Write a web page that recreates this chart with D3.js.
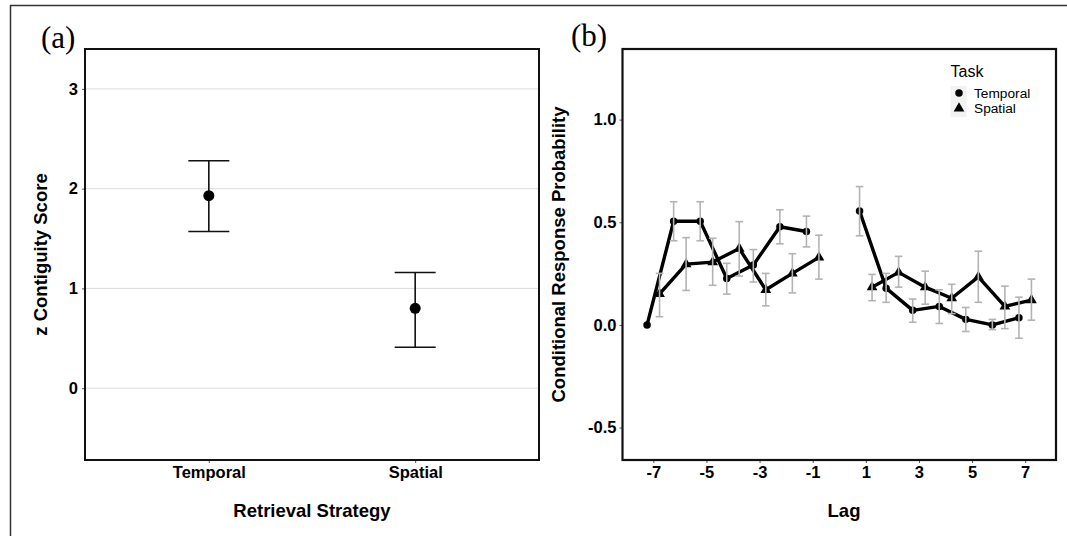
<!DOCTYPE html>
<html lang="en">
  <head>
    <meta charset="UTF-8" />
    <title>Contiguity and lag-CRP</title>
    <script src="https://d3js.org/d3.v7.min.js"></script>
    <style>
      body {
        margin: 0;
        background: #fff;
      }
      svg {
        font-family: "Liberation Sans", Arial, sans-serif;
      }
      .tick text {
        font-size: 16.5px;
        font-weight: bold;
        fill: #000;
      }
      .tick line {
        stroke: #555;
      }
      .axis-title {
        font-size: 18.5px;
        font-weight: bold;
        text-anchor: middle;
      }
      .panel-label {
        font-family: "Liberation Serif", "Times New Roman", serif;
        font-size: 31px;
      }
    </style>
  </head>
  <body>
    <svg id="chart" width="1067" height="536"></svg>
    <script>
      // panel (a): z contiguity score by retrieval strategy
      const strategies = ["Temporal", "Spatial"];
      const zMean = [1.93, 0.8];
      const zLow = [1.57, 0.41];
      const zHigh = [2.28, 1.16];
      const zTicks = [0, 1, 2, 3];

      // panel (b): lag-CRP per task
      const lags = [-7, -6, -5, -4, -3, -2, -1, 1, 2, 3, 4, 5, 6, 7];
      const temporalCrp = [0.0, 0.505, 0.505, 0.226, 0.292, 0.478, 0.455, 0.555, 0.179, 0.071, 0.09, 0.027, 0.0, 0.035];
      const temporalLow = [0.0, 0.41, 0.41, 0.15, 0.209, 0.395, 0.38, 0.434, 0.11, 0.013, 0.007, -0.032, -0.023, -0.065];
      const temporalHigh = [0.0, 0.6, 0.6, 0.3, 0.367, 0.561, 0.53, 0.674, 0.251, 0.126, 0.171, 0.085, 0.027, 0.135];
      const spatialCrp = [0.151, 0.296, 0.306, 0.372, 0.171, 0.251, 0.329, 0.184, 0.256, 0.184, 0.13, 0.234, 0.09, 0.121];
      const spatialLow = [0.04, 0.168, 0.193, 0.238, 0.093, 0.156, 0.223, 0.118, 0.184, 0.101, 0.055, 0.11, -0.018, 0.023];
      const spatialHigh = [0.251, 0.425, 0.422, 0.503, 0.251, 0.347, 0.437, 0.246, 0.334, 0.262, 0.198, 0.359, 0.189, 0.223];
      const crpTicks = [-0.5, 0, 0.5, 1.0];
      const lagTicks = [-7, -5, -3, -1, 1, 3, 5, 7];
      const tasks = ["Temporal", "Spatial"];

      const svg = d3.select("#chart");

      // outer frame (top + left edges only)
      svg.append("line").attr("x1", 10).attr("y1", 5.5).attr("x2", 1067).attr("y2", 5.5)
        .attr("stroke", "#333").attr("stroke-width", 1.5);
      svg.append("line").attr("x1", 10.5).attr("y1", 5).attr("x2", 10.5).attr("y2", 536)
        .attr("stroke", "#333").attr("stroke-width", 1.5);

      // ---------- panel (a) ----------
      const a = { left: 85, right: 539, top: 49, bottom: 460 };
      const xA = d3.scalePoint().domain(strategies).range([a.left, a.right]).padding(0.6);
      const yA = d3.scaleLinear().domain([-0.72, 3.4]).range([a.bottom, a.top]);

      const gA = svg.append("g");
      gA.selectAll("line.grid")
        .data(zTicks)
        .enter()
        .append("line")
        .attr("class", "grid")
        .attr("x1", a.left).attr("x2", a.right)
        .attr("y1", (d) => yA(d)).attr("y2", (d) => yA(d))
        .attr("stroke", "#dcdcdc").attr("stroke-width", 1);

      gA.append("g")
        .attr("transform", `translate(${a.left},0)`)
        .call(d3.axisLeft(yA).tickValues(zTicks).tickFormat((d) => String(d)).tickSize(3).tickPadding(4))
        .call((g) => g.select(".domain").remove());
      gA.append("g")
        .attr("transform", `translate(0,${a.bottom})`)
        .call(d3.axisBottom(xA).tickSize(3).tickPadding(3))
        .call((g) => g.select(".domain").remove());

      const capA = 20.5;
      const errA = gA.selectAll("g.err")
        .data(strategies)
        .enter()
        .append("g")
        .attr("stroke", "#111")
        .attr("stroke-width", 1.6);
      errA.append("line")
        .attr("x1", (d) => xA(d)).attr("x2", (d) => xA(d))
        .attr("y1", (d, i) => yA(zLow[i])).attr("y2", (d, i) => yA(zHigh[i]));
      errA.append("line")
        .attr("x1", (d) => xA(d) - capA).attr("x2", (d) => xA(d) + capA)
        .attr("y1", (d, i) => yA(zLow[i])).attr("y2", (d, i) => yA(zLow[i]));
      errA.append("line")
        .attr("x1", (d) => xA(d) - capA).attr("x2", (d) => xA(d) + capA)
        .attr("y1", (d, i) => yA(zHigh[i])).attr("y2", (d, i) => yA(zHigh[i]));
      gA.selectAll("circle.pt")
        .data(strategies)
        .enter()
        .append("circle")
        .attr("cx", (d) => xA(d))
        .attr("cy", (d, i) => yA(zMean[i]))
        .attr("r", 5.5)
        .attr("fill", "#000");

      gA.append("rect")
        .attr("x", a.left).attr("y", a.top)
        .attr("width", a.right - a.left).attr("height", a.bottom - a.top)
        .attr("fill", "none").attr("stroke", "#111").attr("stroke-width", 2);

      gA.append("text").attr("class", "axis-title")
        .attr("x", (a.left + a.right) / 2).attr("y", 516.5)
        .text("Retrieval Strategy");
      gA.append("text").attr("class", "axis-title")
        .attr("transform", `translate(46.5,${(a.top + a.bottom) / 2}) rotate(-90)`)
        .text("z Contiguity Score");
      gA.append("text").attr("class", "panel-label")
        .attr("x", 41).attr("y", 47.5).text("(a)");

      // ---------- panel (b) ----------
      const b = { left: 622.5, right: 1056, top: 49, bottom: 460 };
      const xB = d3.scaleLinear().domain([-8.16, 8.16]).range([b.left, b.right]);
      const yB = d3.scaleLinear().domain([-0.658, 1.344]).range([b.bottom, b.top]);
      const dodge = 0.235;

      const gB = svg.append("g");
      gB.append("g")
        .attr("transform", `translate(${b.left},0)`)
        .call(d3.axisLeft(yB).tickValues(crpTicks).tickFormat((d) => d.toFixed(1)).tickSize(3).tickPadding(3))
        .call((g) => g.select(".domain").remove());
      gB.append("g")
        .attr("transform", `translate(0,${b.bottom})`)
        .call(d3.axisBottom(xB).tickValues(lagTicks).tickFormat((d) => String(d)).tickSize(3).tickPadding(3))
        .call((g) => g.select(".domain").remove());

      const series = [
        { name: "Temporal", off: -dodge, mean: temporalCrp, lo: temporalLow, hi: temporalHigh, shape: d3.symbolCircle, size: 44 },
        { name: "Spatial", off: dodge, mean: spatialCrp, lo: spatialLow, hi: spatialHigh, shape: d3.symbolTriangle, size: 50 },
      ];

      const line = d3.line()
        .x((d) => xB(d.lag))
        .y((d) => yB(d.v));

      series.forEach((s) => {
        const pts = lags.map((l, i) => ({ lag: l + s.off, v: s.mean[i], lo: s.lo[i], hi: s.hi[i] }));
        const neg = pts.filter((p, i) => lags[i] < 0);
        const pos = pts.filter((p, i) => lags[i] > 0);
        [neg, pos].forEach((seg) => {
          gB.append("path")
            .datum(seg)
            .attr("d", line)
            .attr("fill", "none")
            .attr("stroke", "#000")
            .attr("stroke-width", 3.4)
            .attr("stroke-linejoin", "round");
        });
        gB.selectAll(null)
          .data(pts)
          .enter()
          .append("path")
          .attr("transform", (d) => `translate(${xB(d.lag)},${yB(d.v)})`)
          .attr("d", d3.symbol().type(s.shape).size(s.size))
          .attr("fill", "#000");
        s.pts = pts;
      });

      // error bars sit on top of the lines
      const cap = 3.8;
      series.forEach((s) => {
        const eb = gB.selectAll(null)
          .data(s.pts.filter((d) => d.hi > d.lo))
          .enter()
          .append("g")
          .attr("stroke", "#b3b3b3")
          .attr("stroke-width", 1.6);
        eb.append("line")
          .attr("x1", (d) => xB(d.lag)).attr("x2", (d) => xB(d.lag))
          .attr("y1", (d) => yB(d.lo)).attr("y2", (d) => yB(d.hi));
        eb.append("line")
          .attr("x1", (d) => xB(d.lag) - cap).attr("x2", (d) => xB(d.lag) + cap)
          .attr("y1", (d) => yB(d.lo)).attr("y2", (d) => yB(d.lo));
        eb.append("line")
          .attr("x1", (d) => xB(d.lag) - cap).attr("x2", (d) => xB(d.lag) + cap)
          .attr("y1", (d) => yB(d.hi)).attr("y2", (d) => yB(d.hi));
      });

      gB.append("rect")
        .attr("x", b.left).attr("y", b.top)
        .attr("width", b.right - b.left).attr("height", b.bottom - b.top)
        .attr("fill", "none").attr("stroke", "#111").attr("stroke-width", 2.2);

      gB.append("text").attr("class", "axis-title")
        .attr("x", 844).attr("y", 516.5).text("Lag");
      gB.append("text").attr("class", "axis-title")
        .attr("transform", `translate(565,${(b.top + b.bottom) / 2}) rotate(-90)`)
        .text("Conditional Response Probability");
      gB.append("text").attr("class", "panel-label")
        .attr("x", 571).attr("y", 46).text("(b)");

      // legend
      const leg = gB.append("g").attr("transform", "translate(950.5,0)");
      leg.append("text")
        .attr("x", 0).attr("y", 76.5)
        .attr("font-size", "16px").text("Task");
      leg.append("rect")
        .attr("x", 0).attr("y", 86).attr("width", 16).attr("height", 31)
        .attr("fill", "#f2f2f2");
      const legY = [93, 108.5];
      series.forEach((s, i) => {
        leg.append("path")
          .attr("transform", `translate(8.5,${legY[i]})`)
          .attr("d", d3.symbol().type(s.shape).size(s.size))
          .attr("fill", "#000");
        leg.append("text")
          .attr("x", 23.5).attr("y", legY[i]).attr("dy", "0.36em")
          .attr("font-size", "13.7px").text(tasks[i]);
      });
    </script>
  </body>
</html>
